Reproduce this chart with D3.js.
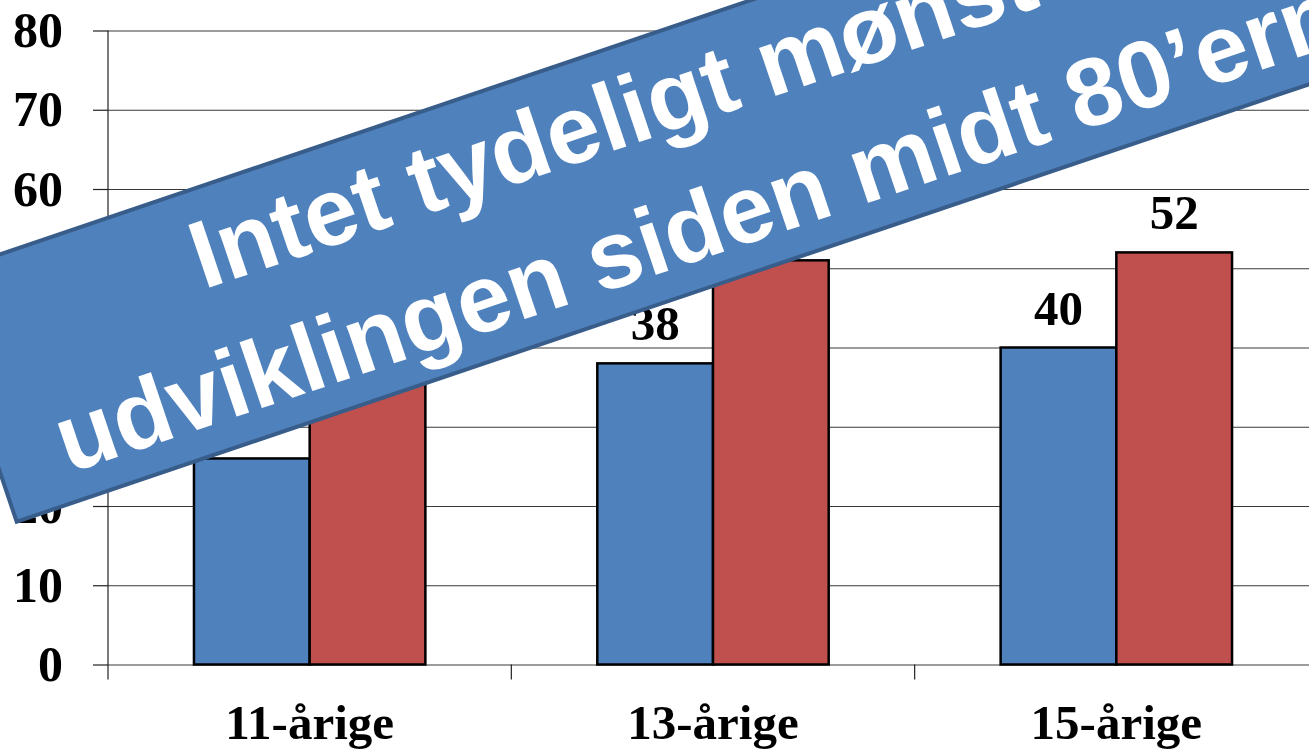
<!DOCTYPE html>
<html>
<head>
<meta charset="utf-8">
<script src="https://cdn.jsdelivr.net/npm/d3@7"></script>
<style>
  body { margin: 0; background: #fff; }
</style>
</head>
<body>
<div class="chart"></div>
<script>
var categories = ["11-årige", "13-årige", "15-årige"]
var seriesNames = ["blue", "red"]
var blueValues = [26, 38, 40]
var redValues = [44, 51, 52]
var yTicks = [0, 10, 20, 30, 40, 50, 60, 70, 80]
var bannerLines = ["Intet tydeligt mønster i", "udviklingen siden midt 80’erne"]

var colors = { blue: "#4F81BD", red: "#C0504D" }
var serif = "'Liberation Serif', 'Times New Roman', serif"

var svg = d3.select(".chart")
  .append("svg")
  .attr("width", 1309)
  .attr("height", 750)

var y = d3.scaleLinear().domain([0, 80]).range([664.5, 30.5])
var x0 = d3.scaleBand().domain(categories).range([108, 1318])
var x1 = d3.scaleBand().domain(seriesNames).range([0, x0.bandwidth()]).paddingOuter(0.743)

// gridlines
svg.append("g")
  .attr("transform", "translate(108,0)")
  .call(d3.axisLeft(y).tickValues(yTicks).tickSize(-1220).tickFormat(""))
  .call(g => g.select(".domain").remove())
  .selectAll("line")
  .style("stroke", "#3a3a3a")
  .style("stroke-width", 1.2)

// y axis ticks + labels
svg.append("g")
  .attr("transform", "translate(108,0)")
  .call(d3.axisLeft(y).tickValues(yTicks).tickSize(15).tickPadding(30))
  .call(g => g.select(".domain").remove())
  .call(g => g.selectAll("line").style("stroke", "#222").style("stroke-width", 1.2))
  .call(g => g.selectAll("text")
    .style("font-family", serif)
    .style("font-size", "50px")
    .style("font-weight", "bold")
    .attr("fill", "#000"))

// y axis line
svg.append("line")
  .attr("x1", 108).attr("y1", y(80))
  .attr("x2", 108).attr("y2", y(0) + 15)
  .style("stroke", "#222")
  .style("stroke-width", 1.2)

// x ticks between categories
categories.forEach((c, i) => {
  svg.append("line")
    .attr("x1", x0(c) + x0.bandwidth())
    .attr("y1", y(0))
    .attr("x2", x0(c) + x0.bandwidth())
    .attr("y2", y(0) + 15)
    .style("stroke", "#222")
    .style("stroke-width", 1.2)
})

// category labels
svg.append("g")
  .attr("transform", "translate(0," + y(0) + ")")
  .call(d3.axisBottom(x0).tickSize(0).tickPadding(40))
  .call(g => g.select(".domain").remove())
  .call(g => g.selectAll("text")
    .style("font-family", serif)
    .style("font-size", "49px")
    .style("font-weight", "bold")
    .attr("fill", "#000"))

// bars
var rows = categories.map((c, i) => ({ cat: c, blue: blueValues[i], red: redValues[i] }))

var groups = svg.selectAll(".grp")
  .data(rows)
  .enter().append("g")
  .attr("transform", d => "translate(" + x0(d.cat) + ",0)")

groups.selectAll("rect")
  .data(d => seriesNames.map(s => ({ key: s, value: d[s] })))
  .enter().append("rect")
  .attr("x", d => x1(d.key))
  .attr("y", d => y(d.value))
  .attr("width", x1.bandwidth())
  .attr("height", d => y(0) - y(d.value))
  .style("fill", d => colors[d.key])
  .style("stroke", "#000")
  .style("stroke-width", 2.5)

groups.selectAll(".lbl")
  .data(d => seriesNames.map(s => ({ key: s, value: d[s] })))
  .enter().append("text")
  .attr("x", d => x1(d.key) + x1.bandwidth() / 2)
  .attr("y", d => y(d.value) - 23)
  .attr("text-anchor", "middle")
  .text(d => d.value)
  .style("font-family", serif)
  .style("font-size", "49px")
  .style("font-weight", "bold")
  .attr("fill", "#000")

// rotated banner
var banner = svg.append("g")
  .attr("transform", "translate(16.7,521.7) rotate(-18.7)")

banner.append("rect")
  .attr("x", 0)
  .attr("y", -258.6)
  .attr("width", 1533)
  .attr("height", 258.6)
  .style("fill", "#4F81BD")
  .style("stroke", "#385D8A")
  .style("stroke-width", 4)

banner.selectAll(".bl")
  .data(bannerLines)
  .enter().append("text")
  .attr("x", 766)
  .attr("y", (d, i) => i == 0 ? -160 : -29)
  .attr("text-anchor", "middle")
  .text(d => d)
  .style("font-family", "'Liberation Sans', Arial, sans-serif")
  .style("font-size", "96px")
  .style("font-weight", "bold")
  .attr("fill", "#fff")
</script>
</body>
</html>
